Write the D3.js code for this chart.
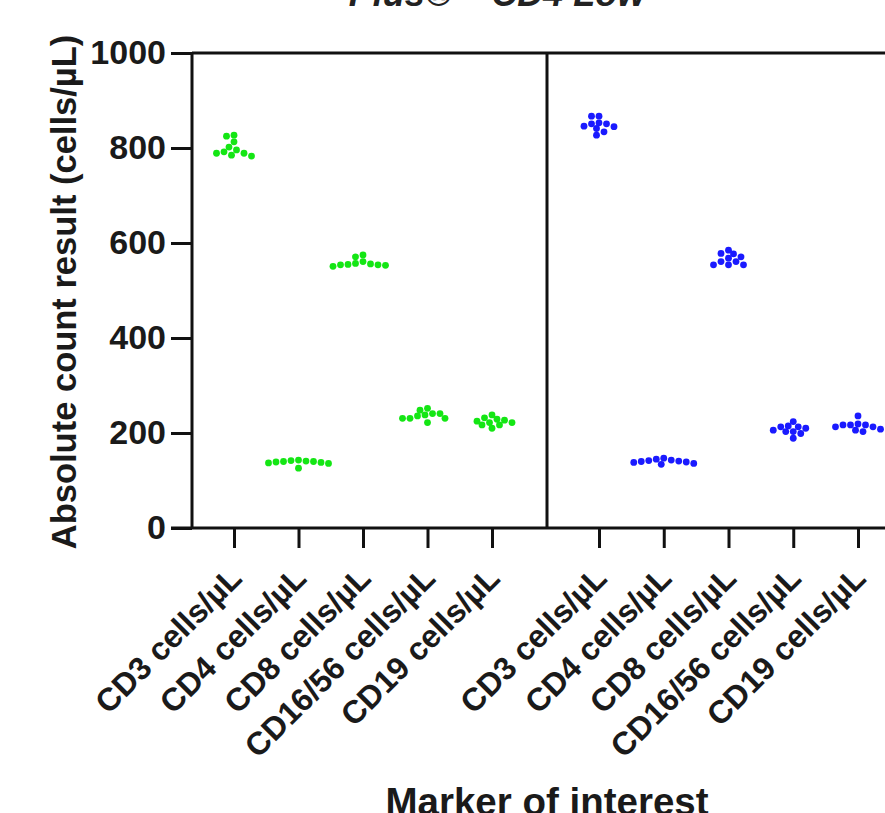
<!DOCTYPE html>
<html>
<head>
<meta charset="utf-8">
<script src="https://cdn.jsdelivr.net/npm/d3@7"></script>
<style>
  body { margin: 0; background: #fff; }
  svg { display: block; font-family: "Liberation Sans", Arial, sans-serif; }
</style>
</head>
<body>
<div id="container"></div>
<script>
const markers = ['CD3 cells/µL', 'CD4 cells/µL', 'CD8 cells/µL', 'CD16/56 cells/µL', 'CD19 cells/µL']

// left panel (green) replicate values per marker
const greenCD3 = [825, 827, 813, 792, 785, 789, 796, 783, 802, 789]
const greenCD4 = [140, 138, 142, 136, 126, 139, 141, 137, 143, 140]
const greenCD8 = [571, 551, 561, 575, 556, 554, 554, 553, 555, 557]
const greenCD1656 = [236, 231, 222, 241, 231, 252, 241, 231, 248, 238]
const greenCD19 = [225, 229, 217, 210, 238, 227, 217, 232, 222, 222]

// right panel (blue)
const blueCD3 = [851, 845, 827, 867, 851, 841, 867, 846, 834, 853]
const blueCD4 = [145, 142, 140, 147, 138, 143, 136, 141, 139, 134]
const blueCD8 = [554, 571, 561, 585, 568, 554, 577, 561, 578, 554]
const blueCD1656 = [213, 206, 203, 189, 224, 210, 199, 203, 213, 215]
const blueCD19 = [219, 217, 203, 236, 213, 208, 217, 217, 206, 213]

const yTicks = [0, 200, 400, 600, 800, 1000]

const config = {
    width: 885,
    height: 813,
    left: 192,
    mid: 547,
    right: 902,
    top: 53,
    bottom: 528,
}

const panels = [
    {color: '#14e614', series: [greenCD3, greenCD4, greenCD8, greenCD1656, greenCD19],
     range: [config.left + 42, config.mid - 55]},
    {color: '#1a1aff', series: [blueCD3, blueCD4, blueCD8, blueCD1656, blueCD19],
     range: [config.mid + 52, config.right - 44]},
]

const svg = d3.select('#container')
    .append('svg')
    .attr('width', config.width)
    .attr('height', config.height)

const yScale = d3.scaleLinear()
    .domain([0, 1000])
    .range([config.bottom, config.top])

// cropped title at the very top
svg.append('text')
    .attr('x', 497)
    .attr('y', 6)
    .attr('text-anchor', 'middle')
    .style('font-size', '36px')
    .style('font-weight', 'bold')
    .style('font-style', 'italic')
    .style('fill', '#222')
    .text('Plus® – CD4 Low')

// frame
const frame = svg.append('g')
    .attr('stroke', '#111')
    .attr('stroke-width', 3)
    .attr('fill', 'none')

frame.append('line')
    .attr('x1', config.left).attr('x2', config.width + 10)
    .attr('y1', config.top).attr('y2', config.top)
frame.append('line')
    .attr('x1', config.mid).attr('x2', config.mid)
    .attr('y1', config.top).attr('y2', config.bottom)

const yAxis = svg.append('g')
    .attr('class', 'y-axis')
    .attr('transform', `translate(${config.left},0)`)
    .call(d3.axisLeft(yScale).tickValues(yTicks).tickFormat(d3.format('d')).tickSize(21).tickPadding(5))

yAxis.select('.domain')
    .attr('d', `M0,${config.top}V${config.bottom}`)
yAxis.selectAll('line, path')
    .attr('stroke', '#111')
    .attr('stroke-width', 3)
yAxis.selectAll('text')
    .style('font-size', '34px')
    .style('font-weight', 'bold')
    .style('fill', '#1a1a1a')

// x axis baseline
svg.append('line')
    .attr('x1', config.left - 21).attr('x2', config.width + 10)
    .attr('y1', config.bottom).attr('y2', config.bottom)
    .attr('stroke', '#111')
    .attr('stroke-width', 3)

svg.append('text')
    .attr('transform', `translate(76, 292) rotate(-90)`)
    .attr('text-anchor', 'middle')
    .style('font-size', '34.5px')
    .style('font-weight', 'bold')
    .style('fill', '#1a1a1a')
    .text('Absolute count result (cells/µL)')

// beeswarm: nudge points sideways until they stop overlapping too much
const swarm = (values, cx) => {
    const minDist = 6.2
    const placed = []
    const sorted = values.map(v => ({v, y: yScale(v)})).sort((a, b) => a.y - b.y)
    sorted.forEach(p => {
        for (let k = 0; k < 80; k++) {
            const off = (k % 2 === 0 ? 1 : -1) * Math.ceil(k / 2) * 2.5
            const ok = placed.every(q => Math.hypot(q.x - (cx + off), q.y - p.y) >= minDist)
            if (ok) { p.x = cx + off; break }
        }
        placed.push(p)
    })
    return placed
}

panels.forEach(panel => {
    const xScale = d3.scalePoint()
        .domain(markers)
        .range(panel.range)

    const xAxis = svg.append('g')
        .attr('class', 'x-axis')
        .attr('transform', `translate(0,${config.bottom})`)
        .call(d3.axisBottom(xScale).tickSize(20).tickPadding(0))

    xAxis.select('.domain').remove()
    xAxis.selectAll('line')
        .attr('stroke', '#111')
        .attr('stroke-width', 3)
    xAxis.selectAll('text')
        .attr('text-anchor', 'end')
        .attr('dy', 0)
        .attr('transform', 'translate(-5,38) rotate(-45)')
        .style('font-size', '32px')
        .style('font-weight', 'bold')
        .style('fill', '#1a1a1a')

    panel.series.forEach((values, i) => {
        svg.append('g')
            .selectAll('circle')
            .data(swarm(values, xScale(markers[i])))
            .join('circle')
            .attr('cx', d => d.x)
            .attr('cy', d => d.y)
            .attr('r', 3.4)
            .attr('fill', panel.color)
    })
})

svg.append('text')
    .attr('x', config.mid)
    .attr('y', 815)
    .attr('text-anchor', 'middle')
    .style('font-size', '38.5px')
    .style('font-weight', 'bold')
    .style('fill', '#1a1a1a')
    .text('Marker of interest')
</script>
</body>
</html>
